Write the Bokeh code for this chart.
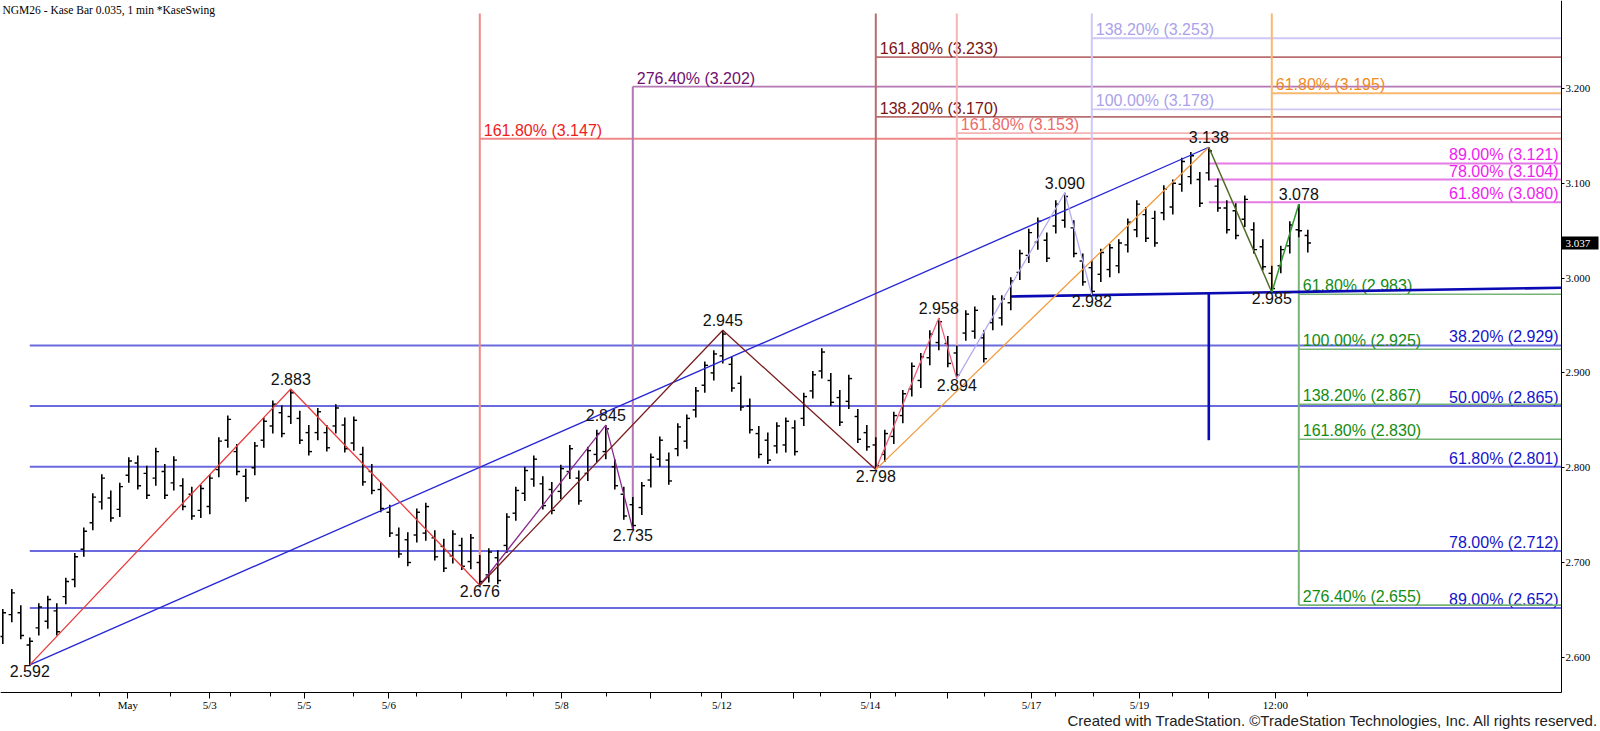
import numpy as np
from bokeh.plotting import figure
from bokeh.models import FixedTicker, PrintfTickFormatter, Range1d
from bokeh.core.properties import value
from bokeh.embed import file_html
from bokeh.resources import INLINE

# ---------------- data ----------------
highs = [2.651, 2.672, 2.655, 2.621, 2.657, 2.665, 2.657, 2.684, 2.710, 2.737,
         2.773, 2.793, 2.776, 2.784, 2.811, 2.813, 2.802, 2.821, 2.804, 2.812,
         2.789, 2.780, 2.782, 2.793, 2.832, 2.855, 2.825, 2.799, 2.827, 2.853,
         2.871, 2.866, 2.883, 2.860, 2.845, 2.863, 2.845, 2.867, 2.853, 2.854,
         2.822, 2.804, 2.785, 2.761, 2.737, 2.732, 2.757, 2.763, 2.734, 2.725,
         2.734, 2.726, 2.730, 2.708, 2.715, 2.713, 2.752, 2.780, 2.801, 2.813,
         2.791, 2.785, 2.803, 2.824, 2.797, 2.822, 2.840, 2.845, 2.809, 2.780,
         2.769, 2.785, 2.815, 2.833, 2.816, 2.847, 2.856, 2.885, 2.912, 2.924,
         2.945, 2.917, 2.897, 2.873, 2.844, 2.837, 2.848, 2.853, 2.850, 2.879,
         2.902, 2.926, 2.900, 2.882, 2.898, 2.862, 2.845, 2.832, 2.840, 2.859,
         2.882, 2.911, 2.921, 2.945, 2.958, 2.939, 2.929, 2.966, 2.970, 2.945,
         2.982, 2.982, 3.001, 3.030, 3.052, 3.064, 3.048, 3.082, 3.090, 3.061,
         3.026, 3.019, 3.031, 3.036, 3.041, 3.063, 3.082, 3.075, 3.071, 3.098,
         3.104, 3.127, 3.133, 3.112, 3.138, 3.105, 3.082, 3.079, 3.087, 3.059,
         3.041, 3.013, 3.034, 3.060, 3.078, 3.051]
lows = [2.614, 2.637, 2.619, 2.592, 2.623, 2.630, 2.623, 2.656, 2.674, 2.706,
        2.734, 2.756, 2.743, 2.748, 2.784, 2.777, 2.767, 2.781, 2.767, 2.776,
        2.755, 2.745, 2.747, 2.751, 2.790, 2.821, 2.792, 2.764, 2.792, 2.821,
        2.836, 2.832, 2.846, 2.825, 2.813, 2.829, 2.817, 2.836, 2.816, 2.818,
        2.781, 2.772, 2.753, 2.727, 2.705, 2.696, 2.721, 2.723, 2.702, 2.690,
        2.699, 2.692, 2.693, 2.676, 2.679, 2.677, 2.710, 2.744, 2.765, 2.780,
        2.756, 2.751, 2.767, 2.788, 2.761, 2.786, 2.806, 2.809, 2.777, 2.745,
        2.735, 2.750, 2.779, 2.801, 2.782, 2.812, 2.820, 2.853, 2.879, 2.892,
        2.910, 2.880, 2.860, 2.836, 2.810, 2.804, 2.815, 2.816, 2.813, 2.844,
        2.873, 2.894, 2.865, 2.844, 2.862, 2.826, 2.818, 2.798, 2.806, 2.825,
        2.847, 2.875, 2.884, 2.908, 2.924, 2.906, 2.894, 2.934, 2.936, 2.911,
        2.945, 2.950, 2.966, 2.998, 3.016, 3.030, 3.017, 3.047, 3.053, 3.022,
        2.992, 2.982, 2.996, 3.001, 3.005, 3.027, 3.043, 3.038, 3.033, 3.061,
        3.067, 3.091, 3.099, 3.075, 3.103, 3.070, 3.047, 3.041, 3.054, 3.026,
        3.008, 2.985, 3.005, 3.026, 3.043, 3.027]
opens = [2.622, 2.645, 2.647, 2.613, 2.631, 2.638, 2.649, 2.664, 2.682, 2.714,
         2.742, 2.764, 2.768, 2.756, 2.792, 2.805, 2.794, 2.789, 2.796, 2.784,
         2.781, 2.772, 2.755, 2.759, 2.798, 2.829, 2.817, 2.791, 2.800, 2.829,
         2.844, 2.858, 2.854, 2.852, 2.837, 2.837, 2.837, 2.844, 2.845, 2.826,
         2.814, 2.796, 2.777, 2.753, 2.729, 2.724, 2.729, 2.731, 2.726, 2.717,
         2.707, 2.718, 2.701, 2.700, 2.687, 2.705, 2.718, 2.752, 2.773, 2.788,
         2.783, 2.777, 2.775, 2.796, 2.789, 2.794, 2.814, 2.817, 2.801, 2.772,
         2.761, 2.758, 2.787, 2.809, 2.808, 2.820, 2.828, 2.861, 2.887, 2.900,
         2.918, 2.909, 2.889, 2.865, 2.836, 2.829, 2.823, 2.824, 2.842, 2.852,
         2.881, 2.902, 2.892, 2.874, 2.870, 2.854, 2.837, 2.824, 2.814, 2.833,
         2.855, 2.883, 2.892, 2.916, 2.932, 2.931, 2.921, 2.942, 2.944, 2.937,
         2.953, 2.958, 2.974, 3.006, 3.024, 3.038, 3.040, 3.055, 3.061, 3.053,
         3.018, 3.011, 3.004, 3.009, 3.013, 3.035, 3.051, 3.067, 3.063, 3.069,
         3.075, 3.099, 3.107, 3.104, 3.111, 3.097, 3.074, 3.071, 3.062, 3.051,
         3.033, 3.005, 3.013, 3.034, 3.051, 3.045]
closes = [2.647, 2.668, 2.623, 2.617, 2.653, 2.661, 2.627, 2.680, 2.706, 2.733,
          2.769, 2.789, 2.747, 2.780, 2.807, 2.781, 2.771, 2.817, 2.771, 2.808,
          2.759, 2.749, 2.778, 2.789, 2.828, 2.851, 2.796, 2.768, 2.823, 2.849,
          2.867, 2.836, 2.879, 2.829, 2.817, 2.859, 2.821, 2.863, 2.820, 2.850,
          2.785, 2.776, 2.757, 2.731, 2.709, 2.700, 2.753, 2.759, 2.706, 2.694,
          2.730, 2.696, 2.726, 2.680, 2.711, 2.681, 2.748, 2.776, 2.797, 2.809,
          2.760, 2.755, 2.799, 2.820, 2.765, 2.818, 2.836, 2.841, 2.781, 2.749,
          2.739, 2.781, 2.811, 2.829, 2.786, 2.843, 2.852, 2.881, 2.908, 2.920,
          2.941, 2.884, 2.864, 2.840, 2.814, 2.808, 2.844, 2.849, 2.817, 2.875,
          2.898, 2.922, 2.869, 2.848, 2.894, 2.830, 2.822, 2.802, 2.836, 2.855,
          2.878, 2.907, 2.917, 2.941, 2.954, 2.910, 2.898, 2.962, 2.966, 2.915,
          2.978, 2.978, 2.997, 3.026, 3.048, 3.060, 3.021, 3.078, 3.086, 3.026,
          2.996, 2.986, 3.027, 3.032, 3.037, 3.059, 3.078, 3.042, 3.037, 3.094,
          3.100, 3.123, 3.129, 3.079, 3.134, 3.074, 3.051, 3.045, 3.083, 3.030,
          3.012, 2.989, 3.030, 3.056, 3.050, 3.037]
bars = list(range(len(highs)))
last_price = 3.037

# time axis (bar positions of the date labels)
date_ticks = [13.9, 23.0, 33.5, 42.9, 62.1, 79.9, 96.4, 114.3, 126.3, 141.4]
date_labels = ["May", "5/3", "5/5", "5/6", "5/8", "5/12", "5/14", "5/17", "5/19", "12:00"]
session_ticks = [51, 72, 87.8, 105, 134]
minor_ticks = [7.6, 10.7, 18.6, 25.3, 29.7, 39, 46, 56, 59, 67.1, 77.6,
               90.8, 99.2, 109.1, 117, 121.2, 130, 145]
price_ticks = [2.6, 2.7, 2.8, 2.9, 3.0, 3.1, 3.2]

# swing pivots
pivot_bar = [3, 32, 53, 67, 70, 80, 97, 104, 106, 118, 121, 134, 141, 144]
pivot_price = [2.592, 2.883, 2.676, 2.845, 2.735, 2.945, 2.798, 2.958, 2.894,
               3.090, 2.982, 3.138, 2.985, 3.078]
pivot_is_high = [False, True, False, True, False, True, False, True, False,
                 True, False, True, False, True]

# swing lines
red_swing_x, red_swing_y = [3, 32, 53], [2.592, 2.883, 2.676]
purple_swing_x, purple_swing_y = [53, 67, 70], [2.676, 2.845, 2.735]
brown_swing_x, brown_swing_y = [53, 80, 97], [2.676, 2.945, 2.798]
pink_swing_x, pink_swing_y = [97, 104, 106], [2.798, 2.958, 2.894]
orange_swing_x, orange_swing_y = [97, 134], [2.798, 3.138]
lav_swing_x, lav_swing_y = [106, 118, 121], [2.894, 3.090, 2.982]
olive_swing_x, olive_swing_y = [134, 141], [3.138, 2.985]
green_swing_x, green_swing_y = [141, 144], [2.985, 3.078]
trend_x, trend_y = [3, 134], [2.592, 3.138]

# support line through the two lows, and its measured target
support_start = 112
support_x, support_y = [121, 141], [2.982, 2.985]
target_bar, target_price = 134, 2.829

# fibonacci projections / retracements
blue_pct, blue_lvl = [38.2, 50.0, 61.8, 78.0, 89.0], [2.929, 2.865, 2.801, 2.712, 2.652]
mag_pct, mag_lvl = [89.0, 78.0, 61.8], [3.121, 3.104, 3.080]
green_pct, green_lvl = [61.8, 100.0, 138.2, 161.8, 276.4], [2.983, 2.925, 2.867, 2.830, 2.655]
red_pct, red_lvl = [161.8], [3.147]
purple_pct, purple_lvl = [276.4], [3.202]
brown_pct, brown_lvl = [161.8, 138.2], [3.233, 3.170]
pink_pct, pink_lvl = [161.8], [3.153]
lav_pct, lav_lvl = [138.2, 100.0], [3.253, 3.178]
orange_pct, orange_lvl = [61.8], [3.195]

title_text = "NGM26 - Kase Bar 0.035, 1 min  *KaseSwing"
footer_text = "Created with TradeStation. \u00a9TradeStation Technologies, Inc. All rights reserved."

# ---------------- layout ----------------
W, H = 1600, 731
PXB = 9.0                      # pixels per bar
X0 = 2.3                       # pixel of bar 0
XL = -X0 / PXB
XR = XL + W / PXB
X_AXIS = (1561 - X0) / PXB     # right price axis position
PXD = 948.0                    # pixels per 1.000 of price
YT = 3.2 + 88 / PXD
YB = YT - H / PXD
Y_AXIS = YT - 692 / PXD        # time axis position
VTOP = YT - 13 / PXD
HI_GAP = 4 / PXD               # extra lift of labels above highs
SANS = "Liberation Sans"
SERIF = "Liberation Serif"

p = figure(width=W, height=H, x_range=Range1d(XL, XR), y_range=Range1d(YB, YT),
           output_backend="svg", toolbar_location=None, y_axis_location="right",
           min_border_left=0, min_border_top=0, min_border_right=0, min_border_bottom=0)
p.outline_line_color = None
p.grid.visible = False
p.background_fill_color = "white"
p.border_fill_color = "white"

# axes drawn at fixed positions inside the canvas
p.xaxis.fixed_location = Y_AXIS
p.xaxis.bounds = (XL, X_AXIS)
p.xaxis.ticker = FixedTicker(ticks=date_ticks + session_ticks, minor_ticks=minor_ticks)
ov = {t: l for t, l in zip(date_ticks, date_labels)}
ov.update({t: "" for t in session_ticks})
p.xaxis.major_label_overrides = ov
p.xaxis.major_tick_in = 0
p.xaxis.major_tick_out = 6
p.xaxis.minor_tick_in = 0
p.xaxis.minor_tick_out = 4
p.xaxis.major_label_standoff = 0
p.xaxis.major_label_text_font = SERIF
p.xaxis.major_label_text_font_size = "11px"
p.xaxis.major_label_text_color = "black"
p.xaxis.axis_line_color = "black"

p.yaxis.fixed_location = X_AXIS
p.yaxis.bounds = (Y_AXIS, YT)
p.yaxis.ticker = FixedTicker(ticks=price_ticks)
p.yaxis.formatter = PrintfTickFormatter(format="%.3f")
p.yaxis.major_tick_in = 0
p.yaxis.major_tick_out = 3
p.yaxis.minor_tick_out = 0
p.yaxis.minor_tick_in = 0
p.yaxis.major_label_standoff = 1
p.yaxis.major_label_text_font = SERIF
p.yaxis.major_label_text_font_size = "11px"
p.yaxis.major_label_text_color = "black"
p.yaxis.axis_line_color = "black"


def fib_labels(pcts, lvls):
    return [f"{a:.2f}% ({b:.3f})" for a, b in zip(pcts, lvls)]


def hlines(x0, lvls, color, width=1.8):
    p.segment(x0=[x0] * len(lvls), y0=lvls, x1=[X_AXIS] * len(lvls), y1=lvls,
              line_color=color, line_width=width)


def vline(x, y0, y1, color, width=2):
    p.segment(x0=[x], y0=[y0], x1=[x], y1=[y1], line_color=color, line_width=width)


def ltext(x, lvls, texts, color):
    p.text(x=[x] * len(lvls), y=lvls, text=texts, text_font=value(SANS),
           text_font_size="16px", text_color=color, text_align="left",
           text_baseline="bottom", x_offset=4)


def rtext(lvls, texts, color):
    p.text(x=[X_AXIS] * len(lvls), y=lvls, text=texts, text_font=value(SANS),
           text_font_size="16px", text_color=color, text_align="right",
           text_baseline="bottom", x_offset=-3)


# blue retracements of the whole swing
hlines(red_swing_x[0], blue_lvl, "#6a6ade", 2)
rtext(blue_lvl, fib_labels(blue_pct, blue_lvl), "#1414c8")

# red projection
vline(brown_swing_x[0], red_swing_y[2], VTOP, "#f08a8a")
hlines(brown_swing_x[0], red_lvl, "#f08a8a")
ltext(brown_swing_x[0], red_lvl, fib_labels(red_pct, red_lvl), "#ee1c1c")

# purple projection
vline(purple_swing_x[2], purple_swing_y[2], purple_lvl[0], "#b478b4")
hlines(purple_swing_x[2], purple_lvl, "#b478b4")
ltext(purple_swing_x[2], purple_lvl, fib_labels(purple_pct, purple_lvl), "#6e106e")

# brown projections
vline(brown_swing_x[2], brown_swing_y[2], VTOP, "#b86e6e")
hlines(brown_swing_x[2], brown_lvl, "#b86e6e")
ltext(brown_swing_x[2], brown_lvl, fib_labels(brown_pct, brown_lvl), "#7a1414")

# pink projection
vline(pink_swing_x[2], pink_swing_y[2], VTOP, "#f4b4b4")
hlines(pink_swing_x[2], pink_lvl, "#f4b4b4")
ltext(pink_swing_x[2], pink_lvl, fib_labels(pink_pct, pink_lvl), "#ec6a6a")

# lavender projections
vline(lav_swing_x[2], lav_swing_y[2], VTOP, "#cec8f6")
hlines(lav_swing_x[2], lav_lvl, "#cec8f6")
ltext(lav_swing_x[2], lav_lvl, fib_labels(lav_pct, lav_lvl), "#aaa2ea")

# orange projection
vline(olive_swing_x[1], olive_swing_y[1], VTOP, "#f8b870")
hlines(olive_swing_x[1], orange_lvl, "#f8b870")
ltext(olive_swing_x[1], orange_lvl, fib_labels(orange_pct, orange_lvl), "#f28a1e")

# magenta retracements
hlines(olive_swing_x[0], mag_lvl, "#e47ae4", 2)
rtext(mag_lvl, fib_labels(mag_pct, mag_lvl), "#f01cf0")

# green projections
vline(green_swing_x[1], green_swing_y[1], green_lvl[-1], "#78b478")
hlines(green_swing_x[1], green_lvl, "#78b478", 1.6)
ltext(green_swing_x[1], green_lvl, fib_labels(green_pct, green_lvl), "#148c14")

# support line and target
slope = (support_y[1] - support_y[0]) / (support_x[1] - support_x[0])
s_y0 = support_y[0] + (support_start - support_x[0]) * slope
s_y1 = support_y[0] + (X_AXIS - support_x[0]) * slope
p.segment(x0=[support_start], y0=[s_y0], x1=[X_AXIS], y1=[s_y1], line_color="#0a0ab4", line_width=2.6)
t_top = support_y[0] + (target_bar - support_x[0]) * slope
vline(target_bar, t_top, target_price, "#0a0ab4", 2.6)

# price bars
bx = np.array(bars, dtype=float)
tick_w = 0.36
p.segment(x0=bx, y0=lows, x1=bx, y1=highs, line_color="black", line_width=1.6)
p.segment(x0=bx - tick_w, y0=opens, x1=bx, y1=opens, line_color="black", line_width=1.4)
p.segment(x0=bx, y0=closes, x1=bx + tick_w, y1=closes, line_color="black", line_width=1.4)

# swing lines
p.line(trend_x, trend_y, line_color="#2626d6", line_width=1.3)
p.line(red_swing_x, red_swing_y, line_color="#e83c3c", line_width=1.3)
p.line(purple_swing_x, purple_swing_y, line_color="#8a2a8a", line_width=1.3)
p.line(brown_swing_x, brown_swing_y, line_color="#7a1e1e", line_width=1.3)
p.line(pink_swing_x, pink_swing_y, line_color="#f0607a", line_width=1.3)
p.line(orange_swing_x, orange_swing_y, line_color="#f29a3c", line_width=1.3)
p.line(lav_swing_x, lav_swing_y, line_color="#b4acf2", line_width=1.3)
p.line(olive_swing_x, olive_swing_y, line_color="#4e6a22", line_width=1.5)
p.line(green_swing_x, green_swing_y, line_color="#2e9a2e", line_width=1.5)

# pivot labels
hi_x = [b for b, h in zip(pivot_bar, pivot_is_high) if h]
hi_y = [v for v, h in zip(pivot_price, pivot_is_high) if h]
lo_x = [b for b, h in zip(pivot_bar, pivot_is_high) if not h]
lo_y = [v for v, h in zip(pivot_price, pivot_is_high) if not h]
p.text(x=hi_x, y=[v + HI_GAP for v in hi_y], text=[f"{v:.3f}" for v in hi_y], text_font=value(SANS),
       text_font_size="16px", text_color="#111111", text_align="center", text_baseline="bottom")
p.text(x=lo_x, y=lo_y, text=[f"{v:.3f}" for v in lo_y], text_font=value(SANS),
       text_font_size="16px", text_color="#111111", text_align="center", text_baseline="top")

# last-price marker on the price axis
p.rect(x=[X_AXIS + 18.5 / PXB], y=[last_price], width=37, height=13,
       width_units="screen", height_units="screen", fill_color="black", line_color=None)
p.text(x=[X_AXIS], y=[last_price], text=[f"{last_price:.3f}"], x_offset=4,
       text_font=value(SERIF), text_font_size="11px", text_color="white",
       text_align="left", text_baseline="middle")

# title and footer
p.text(x=[XL], y=[YT], text=[title_text], x_offset=2, y_offset=3, text_font=value(SERIF),
       text_font_size="11.5px", text_color="black", text_align="left", text_baseline="top")
p.text(x=[XR], y=[YT - 720 / PXD], text=[footer_text], x_offset=-2, text_font=value(SANS),
       text_font_size="15px", text_color="#222222", text_align="right", text_baseline="middle")

open("out.html", "w").write(file_html(p, INLINE))
